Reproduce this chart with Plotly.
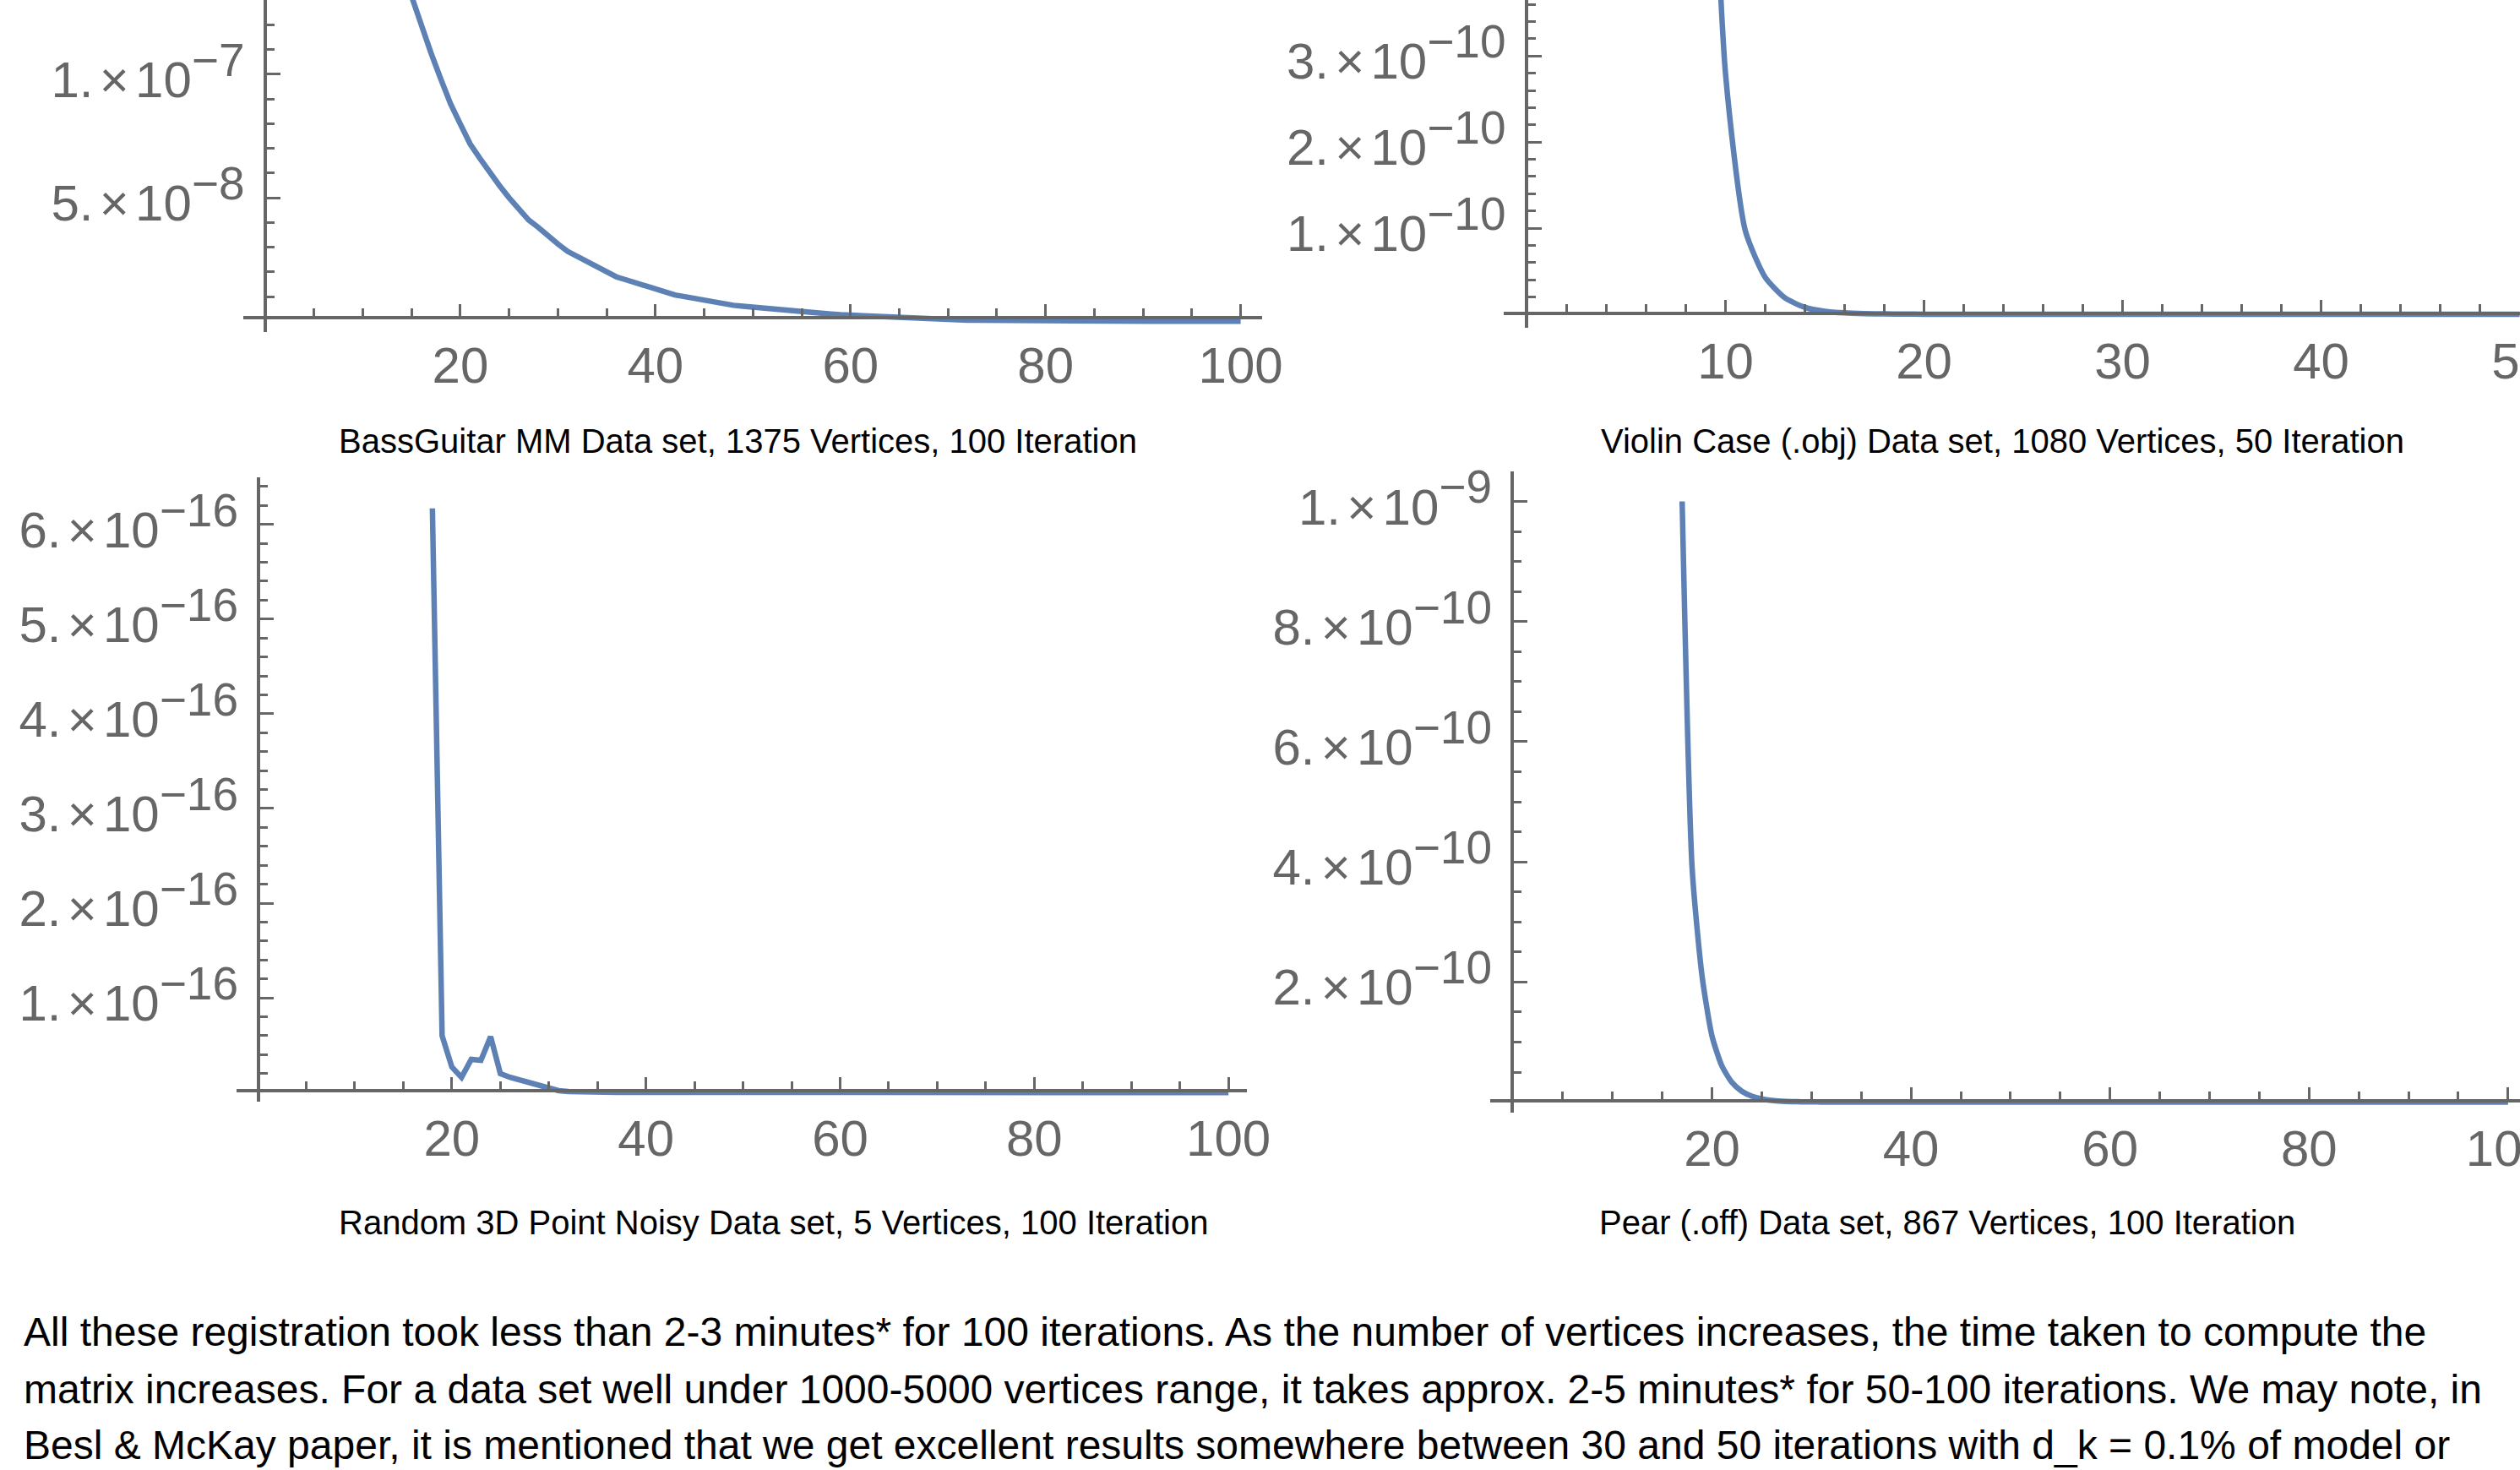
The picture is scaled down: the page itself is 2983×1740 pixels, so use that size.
import plotly.graph_objects as go

W, H = 2983, 1740

# ---------------- data ----------------
bass_iter = list(range(14, 101))
bass_err_e8 = [
    14.3, 13.1, 11.9, 10.85, 9.8, 8.8, 7.98, 7.18, 6.6, 6.0,
    5.5, 5.0, 4.55, 4.1, 3.8, 3.45, 3.13, 2.83, 2.62, 2.41,
    2.2, 2.0, 1.8, 1.68, 1.55, 1.42, 1.3, 1.17, 1.07, 1.0,
    0.92, 0.85, 0.77, 0.70, 0.65, 0.61, 0.57, 0.53, 0.49, 0.46,
    0.42, 0.39, 0.36, 0.33, 0.3, 0.27, 0.25, 0.22, 0.2, 0.18,
    0.16, 0.14, 0.12, 0.11, 0.09, 0.08, 0.07, 0.06, 0.05, 0.045,
    0.04, 0.035, 0.03, 0.027, 0.024, 0.021, 0.019, 0.017, 0.015, 0.013,
    0.012, 0.011, 0.01, 0.009, 0.008, 0.007, 0.006, 0.0055, 0.005, 0.0045,
    0.004, 0.0036, 0.0033, 0.003, 0.0027, 0.0025, 0.0023,
]

violin_iter = list(range(9, 51))
violin_err_e10 = [
    7.8, 2.8, 0.97, 0.43, 0.19, 0.08, 0.035, 0.016, 0.008, 0.004,
    0.002, 0.001, 0.0006, 0.0004, 0.0003, 0.0002, 0.0002, 0.0001, 0.0001, 0.0001,
    0.00009, 0.00008, 0.00007, 0.00006, 0.00005, 0.00005, 0.00004, 0.00004, 0.00003, 0.00003,
    0.00003, 0.00002, 0.00002, 0.00002, 0.00002, 0.00001, 0.00001, 0.00001, 0.00001, 0.00001,
    0.00001, 0.00001,
]

noisy_iter = list(range(18, 101))
noisy_err_e16 = [
    6.17, 0.6, 0.27, 0.16, 0.35, 0.34, 0.59, 0.2, 0.16, 0.13,
    0.1, 0.07, 0.045, 0.02, 0.01, 0.006, 0.004, 0.003, 0.002, 0.002,
    0.0015, 0.0012, 0.001, 0.001, 0.0008, 0.0008, 0.0006, 0.0006, 0.0005, 0.0005,
    0.0004, 0.0004, 0.0003, 0.0003, 0.0003, 0.0002, 0.0002, 0.0002, 0.0002, 0.0002,
    0.0001, 0.0001, 0.0001, 0.0001, 0.0001, 0.0001, 0.0001, 0.0001, 0.0001, 0.0001,
    0.0001, 0.0001, 0.0001, 0.0001, 0.0001, 0.0001, 0.0001, 0.0001, 0.0001, 0.0001,
    0.0001, 0.0001, 0.0001, 0.0001, 0.0001, 0.0001, 0.0001, 0.0001, 0.0001, 0.0001,
    0.0001, 0.0001, 0.0001, 0.0001, 0.0001, 0.0001, 0.0001, 0.0001, 0.0001, 0.0001,
    0.0001, 0.0001, 0.0001,
]

pear_iter = list(range(17, 101))
pear_err_e10 = [
    10.0, 3.9, 2.1, 1.1, 0.6, 0.33, 0.18, 0.1, 0.055, 0.03,
    0.017, 0.01, 0.006, 0.004, 0.003, 0.002, 0.0015, 0.001, 0.001, 0.0008,
    0.0006, 0.0005, 0.0004, 0.0003, 0.0003, 0.0002, 0.0002, 0.0002, 0.0001, 0.0001,
    0.0001, 0.0001, 0.0001, 0.0001, 0.0001, 0.0001, 0.0001, 0.0001, 0.0001, 0.0001,
    0.0001, 0.0001, 0.0001, 0.0001, 0.0001, 0.0001, 0.0001, 0.0001, 0.0001, 0.0001,
    0.0001, 0.0001, 0.0001, 0.0001, 0.0001, 0.0001, 0.0001, 0.0001, 0.0001, 0.0001,
    0.0001, 0.0001, 0.0001, 0.0001, 0.0001, 0.0001, 0.0001, 0.0001, 0.0001, 0.0001,
    0.0001, 0.0001, 0.0001, 0.0001, 0.0001, 0.0001, 0.0001, 0.0001, 0.0001, 0.0001,
    0.0001, 0.0001, 0.0001, 0.0001,
]

# tick labels
iter_ticks_100 = [20, 40, 60, 80, 100]
iter_ticks_50 = [10, 20, 30, 40, 50]
bass_yticks = [(5, -8), (1, -7)]
violin_yticks = [(1, -10), (2, -10), (3, -10)]
noisy_yticks = [(1, -16), (2, -16), (3, -16), (4, -16), (5, -16), (6, -16)]
pear_yticks = [(2, -10), (4, -10), (6, -10), (8, -10), (1, -9)]

captions = [
    "BassGuitar MM Data set, 1375 Vertices, 100 Iteration",
    "Violin Case (.obj) Data set, 1080 Vertices, 50 Iteration",
    "Random 3D Point Noisy Data set, 5 Vertices, 100 Iteration",
    "Pear (.off) Data set, 867 Vertices, 100 Iteration",
]
paragraph_lines = [
    "All these registration took less than 2-3 minutes* for 100 iterations. As the number of vertices increases, the time taken to compute the",
    "matrix increases. For a data set well under 1000-5000 vertices range, it takes approx. 2-5 minutes* for 50-100 iterations. We may note, in",
    "Besl &amp; McKay paper, it is mentioned that we get excellent results somewhere between 30 and 50 iterations with d_k = 0.1% of model or",
]

# ---------------- styling ----------------
GRAY = "#666666"
BLUE = "#5E81B5"
TICKFONT = dict(family="Liberation Sans, Arial, sans-serif", size=60, color=GRAY)
TEXTFONT = "Liberation Sans, Arial, sans-serif"
NARROW = "<span style='font-size:36px'>\u2009</span>"


def fx(px):
    return px / W


def fy(py):
    return 1 - py / H


def sci(m, e):
    return (f"{m}.{NARROW}×{NARROW}10<sup><span style='font-size:55px'>"
            f"\u2212{abs(e)}</span></sup>")


def minor_vals(step, count, every):
    return [k * step for k in range(1, count + 1) if k % every]


panels = [
    dict(x=bass_iter, y=[v * 1e-8 for v in bass_err_e8], shape="linear",
         xdom=(288, 1494), ydom=(0, 393), xr=(-2.25, 102.2), yr=(-0.43e-8, 13.0e-8),
         xline=376, yline=313.5, xt=iter_ticks_100, xm=minor_vals(5, 20, 4),
         yt=bass_yticks, ym=minor_vals(1e-8, 13, 5)),
    dict(x=violin_iter, y=[v * 1e-10 for v in violin_err_e10], shape="spline",
         xdom=(1780, 2983), ydom=(0, 388.3), xr=(-1.17, 50.02), yr=(-0.16e-10, 3.65e-10),
         xline=370.7, yline=1806.5, xt=iter_ticks_50, xm=minor_vals(2, 25, 5),
         yt=violin_yticks, ym=minor_vals(2e-11, 18, 5)),
    dict(x=noisy_iter, y=[v * 1e-16 for v in noisy_err_e16], shape="linear",
         xdom=(280.4, 1476), ydom=(564.7, 1304.4), xr=(-2.14, 101.9), yr=(-0.10e-16, 6.50e-16),
         xline=1290.7, yline=306, xt=iter_ticks_100, xm=minor_vals(5, 20, 4),
         yt=noisy_yticks, ym=minor_vals(2e-17, 32, 5)),
    dict(x=pear_iter, y=[v * 1e-10 for v in pear_err_e10], shape="spline",
         xdom=(1764, 2983), ydom=(558, 1316.7), xr=(-2.29, 101.2), yr=(-0.17e-10, 10.5e-10),
         xline=1302.7, yline=1790, xt=iter_ticks_100, xm=minor_vals(5, 20, 4),
         yt=pear_yticks, ym=minor_vals(5e-11, 20, 4)),
]

fig = go.Figure()
layout = dict(
    width=W, height=H, margin=dict(l=0, r=0, t=0, b=0, pad=0),
    paper_bgcolor="white", plot_bgcolor="white", showlegend=False,
    annotations=[],
)

for i, p in enumerate(panels, start=1):
    xa = "x" if i == 1 else f"x{i}"
    ya = "y" if i == 1 else f"y{i}"
    line = dict(color=BLUE, width=6.5, shape=p["shape"])
    if p["shape"] == "spline":
        line["smoothing"] = 0.6
    fig.add_trace(go.Scatter(
        x=p["x"], y=p["y"], mode="lines", xaxis=xa, yaxis=ya,
        line=line, hoverinfo="skip",
    ))
    common = dict(
        showline=True, linecolor=GRAY, linewidth=4, showgrid=False, zeroline=False,
        ticks="inside", tickcolor=GRAY, tickwidth=3.3, tickfont=TICKFONT,
        tickmode="array", anchor="free", automargin=False, fixedrange=True,
        ticklabeloverflow="allow",
    )
    xaxis = dict(
        common,
        domain=[fx(p["xdom"][0]), fx(p["xdom"][1])], range=list(p["xr"]),
        position=fy(p["xline"]), side="bottom", ticklen=14,
        tickvals=p["xt"], ticktext=[str(v) for v in p["xt"]],
        ticklabelstandoff=3,
        minor=dict(ticks="inside", ticklen=9, tickwidth=3.3, tickcolor=GRAY,
                   tickmode="array", tickvals=p["xm"], showgrid=False),
    )
    yaxis = dict(
        common,
        domain=[fy(p["ydom"][1]), fy(p["ydom"][0])], range=list(p["yr"]),
        position=fx(p["yline"]), side="left", ticklen=16,
        tickvals=[m * 10.0 ** e for m, e in p["yt"]],
        ticktext=[sci(m, e) for m, e in p["yt"]],
        ticklabelstandoff=10, ticklabelshift=6,
        minor=dict(ticks="inside", ticklen=9, tickwidth=3.3, tickcolor=GRAY,
                   tickmode="array", tickvals=p["ym"], showgrid=False),
    )
    layout["xaxis" if i == 1 else f"xaxis{i}"] = xaxis
    layout["yaxis" if i == 1 else f"yaxis{i}"] = yaxis

caption_pos = [(398.5, 498), (1893, 498), (399, 1423), (1891, 1423)]
for text, (cx, cy) in zip(captions, caption_pos):
    layout["annotations"].append(dict(
        text=text, x=fx(cx), y=fy(cy), xref="paper", yref="paper",
        xanchor="left", yanchor="top", showarrow=False,
        font=dict(family=TEXTFONT, size=40, color="black"),
    ))

para_tops = [1548.3, 1615.6, 1682.3]
for text, ty in zip(paragraph_lines, para_tops):
    layout["annotations"].append(dict(
        text=text, x=fx(26), y=fy(ty), xref="paper", yref="paper",
        xanchor="left", yanchor="top", showarrow=False,
        font=dict(family=TEXTFONT, size=48, color="black"),
    ))

fig.update_layout(**layout)
fig.write_html(
    "out.html",
    config={"displayModeBar": False},
    post_script="document.body.style.margin='0';document.body.style.overflow='hidden';",
)
